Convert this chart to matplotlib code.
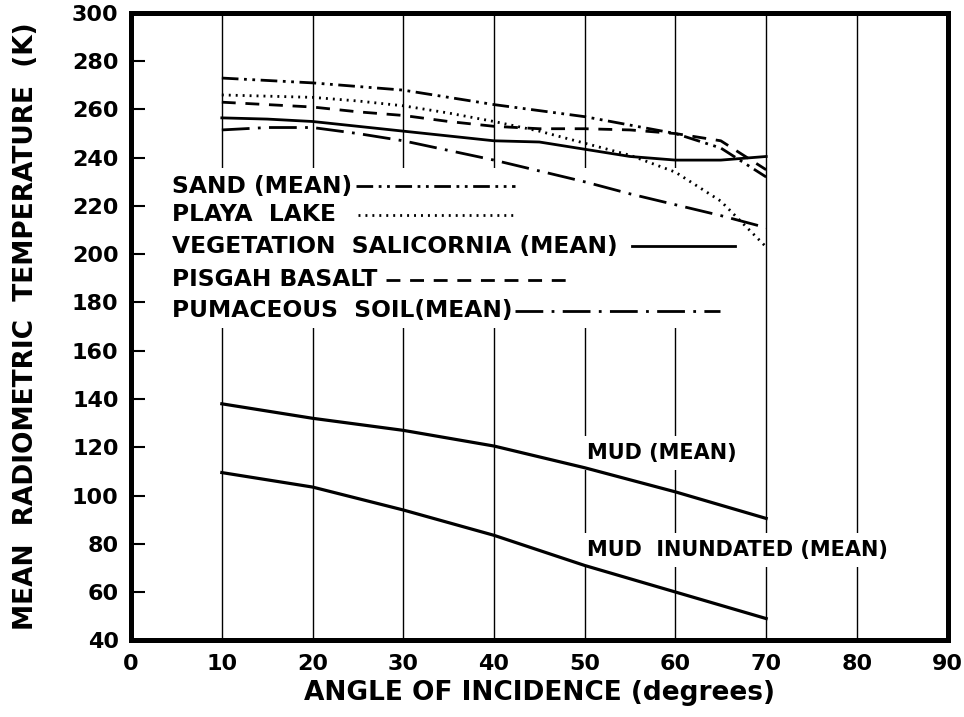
import numpy as np
import matplotlib
matplotlib.use("Agg")
import matplotlib.pyplot as plt
from matplotlib.patches import Rectangle

# angle of incidence (degrees)
angle = [10, 15, 20, 25, 30, 35, 40, 45, 50, 55, 60, 65, 70]
sand = [273, 272, 271, 269.5, 268, 265, 262, 259.5, 257, 253.5, 250, 244, 232]
playa = [266, 265.5, 265, 263.5, 261.5, 258.5, 255, 251, 246, 241, 234, 222, 203]
basalt = [263, 262, 261, 259, 257.5, 255, 253, 252, 252, 251.5, 250, 247, 235]
veget = [256.5, 256, 255, 253, 251, 249, 247, 246.5, 243.5, 240.5, 239, 239, 240.5]
pumice = [251.5, 252.5, 252.5, 250, 247, 243, 239, 234.5, 230, 225, 220.5, 216, 211]

mud_angle = [10, 20, 30, 40, 50, 60, 70]
mud = [138, 132, 127, 120.5, 111.5, 101.5, 90.5]
mud_inund = [109.5, 103.5, 94, 83.5, 71, 60, 49]

xticks = list(range(0, 100, 10))
yticks = list(range(40, 320, 20))

names = ["SAND (MEAN)", "PLAYA  LAKE", "VEGETATION  SALICORNIA (MEAN)",
         "PISGAH BASALT", "PUMACEOUS  SOIL(MEAN)"]

st_sand = (0, (6, 2, 1, 2, 1, 2))
st_playa = (0, (0.7, 1.8))
st_basalt = (0, (5, 3.5))
st_veg = "-"
st_pum = (0, (10, 3, 1, 3))
styles = [st_sand, st_playa, st_veg, st_basalt, st_pum]

fig = plt.figure(figsize=(9.64, 7.17), dpi=100)
ax = fig.add_axes([0.136, 0.107, 0.847, 0.875])

for xg in range(10, 90, 10):
    ax.axvline(xg, color="black", lw=1.0, zorder=1)

# blank area under the key so the grid doesn't run through it
ax.add_patch(Rectangle((0.005, 0.498), 0.735, 0.255, transform=ax.transAxes,
                       facecolor="white", edgecolor="none", zorder=1.5))

lw = 2.0
ax.plot(angle, sand, color="black", lw=lw, linestyle=st_sand, zorder=3)
ax.plot(angle, playa, color="black", lw=lw, linestyle=st_playa, zorder=3)
ax.plot(angle, basalt, color="black", lw=lw, linestyle=st_basalt, zorder=3)
ax.plot(angle, veget, color="black", lw=lw, linestyle=st_veg, zorder=3)
ax.plot(angle, pumice, color="black", lw=lw, linestyle=st_pum, zorder=3)
ax.plot(mud_angle, mud, color="black", lw=2.3, zorder=3)
ax.plot(mud_angle, mud_inund, color="black", lw=2.3, zorder=3)

ax.set_xlim(0, 90)
ax.set_ylim(40, 300)
ax.set_xticks(xticks)
ax.set_yticks(yticks)
ax.tick_params(axis="x", length=0, pad=10, labelsize=16)
ax.tick_params(axis="y", direction="in", length=10, width=1.5, pad=9, labelsize=16)
for lab in ax.get_xticklabels() + ax.get_yticklabels():
    lab.set_fontweight("bold")
for sp in ax.spines.values():
    sp.set_linewidth(3.6)
    sp.set_zorder(5)

ax.set_xlabel("ANGLE OF INCIDENCE (degrees)", fontsize=19, fontweight="bold")
ax.set_ylabel("MEAN  RADIOMETRIC  TEMPERATURE  (K)", fontsize=19, fontweight="bold")
ax.xaxis.set_label_coords(0.5, -0.063)
ax.yaxis.set_label_coords(-0.113, 0.5)

# hand-drawn key: name followed by a sample of the line style
key_y = [0.724, 0.678, 0.628, 0.575, 0.525]
seg_start = [0.276, 0.278, 0.613, 0.312, 0.470]
seg_end = [0.470, 0.470, 0.740, 0.543, 0.721]
for name, st, yy, x0, x1 in zip(names, styles, key_y, seg_start, seg_end):
    ax.text(0.050, yy, name, transform=ax.transAxes, fontsize=16.8,
            fontweight="bold", va="center", ha="left", zorder=4)
    ax.plot([x0, x1], [yy, yy], transform=ax.transAxes, color="black",
            lw=lw, linestyle=st, zorder=4)

box = dict(facecolor="white", edgecolor="none", pad=5)
ax.text(50.2, 117.5, "MUD (MEAN)", fontsize=15, fontweight="bold",
        ha="left", va="center", bbox=box, zorder=2)
ax.text(50.2, 77.5, "MUD  INUNDATED (MEAN)", fontsize=15, fontweight="bold",
        ha="left", va="center", bbox=box, zorder=2)

fig.savefig("out.png", dpi=100)
